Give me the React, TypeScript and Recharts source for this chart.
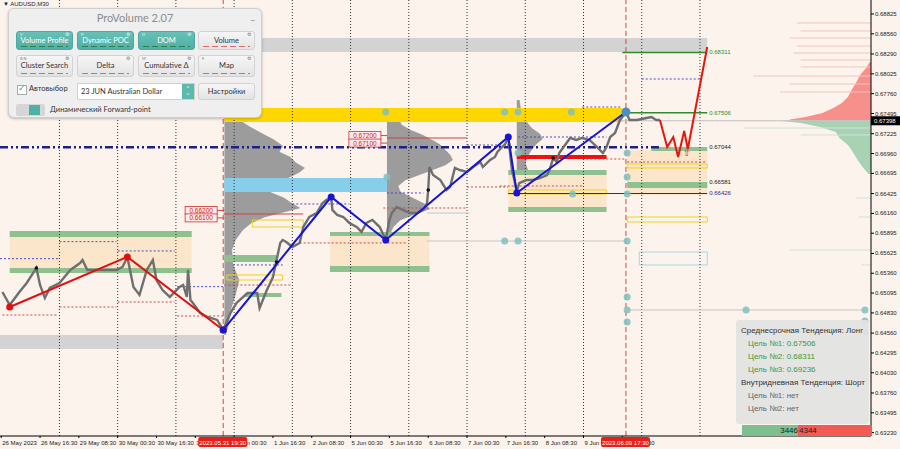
import React from "react";
import {
  ComposedChart,
  Line,
  Area,
  XAxis,
  YAxis,
  ReferenceLine,
  ReferenceArea,
  ReferenceDot,
} from "recharts";

// x axis = M30 bar number counted from 26 May 00:00, y axis = AUDUSD price
const BAR_MAX = 718;
const PRICE_LOW = 0.63185;
const PRICE_HIGH = 0.69012;
const BID = 0.67398;

const timeTickBars = [1, 33, 65, 97, 129, 161, 193, 225, 257, 289, 321, 353, 385, 417, 449, 481, 513];
const timeTickLabels = [
  "26 May 2023", "26 May 16:30", "29 May 08:30", "30 May 00:30", "30 May 16:30", "31 May 08:30",
  "1 Jun 00:30", "1 Jun 16:30", "2 Jun 08:30", "5 Jun 00:30", "5 Jun 16:30", "6 Jun 08:30",
  "7 Jun 00:30", "7 Jun 16:30", "8 Jun 08:30", "9 Jun 00:30", "9 Jun 16:30",
];
const gridBars = [49, 97, 145, 193, 241, 289, 337, 385, 433, 481, 529, 577];
const markerBars = [184, 516];
const markerLabels = ["2023.05.31 19:30", "2023.06.09 17:30"];
const priceTicks = [
  0.68825, 0.6856, 0.6829, 0.68025, 0.6776, 0.67495, 0.67225, 0.6696, 0.66695, 0.66425, 0.6616,
  0.65895, 0.65625, 0.6536, 0.65095, 0.6483, 0.6456, 0.64295, 0.6403, 0.6376, 0.63495, 0.6323,
];

const priceBars = [
  2, 8, 16, 22, 29, 30, 33, 37, 41, 49, 58, 66, 68, 72, 80, 88, 96, 101, 105, 110, 115, 121, 126, 129,
  134, 140, 148, 151, 154, 155, 157, 159, 165, 171, 179, 184, 190, 195, 204, 212, 214, 220, 222, 225,
  228, 231, 233, 236, 241, 247, 250, 255, 261, 266, 269, 273, 274, 278, 283, 288, 294, 298, 302, 307,
  313, 318, 321, 323, 327, 332, 338, 344, 349, 352, 353, 354, 357, 363, 368, 371, 375, 379, 385, 390,
  396, 398, 404, 408, 410, 414, 416, 419, 420, 422, 424, 426, 428, 434, 439, 445, 451, 453, 456, 459,
  461, 467, 470, 475, 480, 486, 492, 497, 500, 503, 507, 511, 513, 516, 519, 525, 533, 537, 541, 544,
];
const priceValues = [
  0.6511, 0.64936, 0.6511, 0.6523, 0.65404, 0.6543, 0.65203, 0.6503, 0.65163, 0.6523, 0.65404, 0.65497,
  0.65537, 0.65404, 0.65404, 0.65404, 0.65404, 0.65444, 0.65578, 0.65177, 0.6507, 0.65404, 0.65537,
  0.6527, 0.65136, 0.65043, 0.65177, 0.65203, 0.65043, 0.65404, 0.65003, 0.64963, 0.64829, 0.64776,
  0.64736, 0.64602, 0.64829, 0.64963, 0.65096, 0.65096, 0.64896, 0.65136, 0.65203, 0.6531, 0.65537,
  0.65765, 0.65805, 0.65778, 0.65711, 0.65765, 0.65978, 0.66112, 0.66165, 0.66299, 0.66339, 0.66379,
  0.66206, 0.66139, 0.66112, 0.66032, 0.65978, 0.65912, 0.66032, 0.66072, 0.65978, 0.65805, 0.66072,
  0.66165, 0.66246, 0.66206, 0.66165, 0.66165, 0.66206, 0.66299, 0.66473, 0.6678, 0.66673, 0.66606,
  0.66473, 0.66513, 0.66767, 0.6674, 0.66713, 0.6678, 0.66847, 0.6678, 0.66874, 0.66914, 0.66981,
  0.67048, 0.67074, 0.67168, 0.67034, 0.6674, 0.66606, 0.66446, 0.66566, 0.66606, 0.66606, 0.66633,
  0.66673, 0.6674, 0.669, 0.66847, 0.66967, 0.67101, 0.67168, 0.67141, 0.67168, 0.67141, 0.67048,
  0.66967, 0.67048, 0.67181, 0.67235, 0.67408, 0.67448, 0.67515, 0.67408, 0.67408, 0.67435, 0.67448,
  0.67408, 0.67408,
];

const redZigBars = [8, 105, 184];
const redZigPrices = [0.64909, 0.65578, 0.64602];
const blueZigBars = [184, 273, 318, 419, 426, 516];
const blueZigPrices = [0.64602, 0.66379, 0.65805, 0.67181, 0.66433, 0.67515];

const forecastBars = [544, 550, 555, 559, 564, 567, 583];
const forecastPrices = [0.67408, 0.67048, 0.67181, 0.66914, 0.67261, 0.67021, 0.68384];

// volume profiles: start bar, row prices, row widths in bars
const profileAStart = 185;
const profileAPrices = [
  0.67502, 0.67408, 0.67315, 0.67235, 0.67141, 0.67061, 0.66981, 0.66914, 0.66834, 0.66767, 0.66713,
  0.66647, 0.6658, 0.665, 0.66433, 0.66366, 0.66299, 0.66232, 0.66179, 0.66112, 0.66032, 0.65938,
  0.65805, 0.65671, 0.65471, 0.6527, 0.6507, 0.64869, 0.64669, 0.64535,
];
const profileAWidths = [2, 12, 21, 30, 41, 48, 45, 54, 59, 66, 62, 54, 41, 33, 39, 49, 55, 62, 49, 33, 22, 15, 9, 6, 7, 12, 9, 5, 3, 1];
const profileBStart = 319;
const profileBPrices = [
  0.67515, 0.67435, 0.67342, 0.67275, 0.67208, 0.67141, 0.67074, 0.67007, 0.66941, 0.66874, 0.66807,
  0.6674, 0.66673, 0.66606, 0.66526, 0.66446, 0.66366, 0.66286, 0.66219, 0.66152, 0.66072, 0.65978, 0.65871,
];
const profileBWidths = [2, 9, 12, 19, 29, 37, 44, 48, 52, 54, 48, 37, 26, 15, 9, 11, 21, 31, 35, 23, 11, 5, 2];
const profileCStart = 426;
const profileCPrices = [
  0.67676, 0.67569, 0.67475, 0.67382, 0.67301, 0.67221, 0.67154, 0.67088, 0.67007, 0.66927, 0.66834,
  0.6674, 0.66633, 0.66526, 0.66446,
];
const profileCWidths = [2, 3, 6, 8, 12, 19, 21, 16, 12, 9, 7, 9, 11, 8, 3];

// market depth at the right edge (widths in bars back from the right edge)
const askPrices = [0.68183, 0.68103, 0.6801, 0.67916, 0.67809, 0.67716, 0.67636, 0.67569, 0.67502, 0.67448, 0.67415, 0.674];
const askWidths = [1, 4, 9, 12, 16, 19, 24, 31, 40, 54, 67, 67];
const bidPrices = [0.67398, 0.67368, 0.67315, 0.67248, 0.67168, 0.67074, 0.66981, 0.66874, 0.6678, 0.66687];
const bidWidths = [75, 58, 42, 29, 26, 19, 15, 11, 7, 2];
const askLinePrices = [0.68705, 0.68598, 0.68504, 0.68397, 0.68304, 0.6821, 0.68117, 0.67996, 0.67889, 0.67783];
const askLineWidths = [61, 58, 67, 61, 64, 58, 58, 97, 67, 75];
const bidLinePrices = [0.67301, 0.67208, 0.66366, 0.66112, 0.65671, 0.65471];
const bidLineWidths = [105, 58, 12, 10, 67, 8];

// zones: [fromBar, toBar, lowPrice, highPrice]
const greyZones = [
  [185, 583, 0.68317, 0.68504],
  [0, 184, 0.64348, 0.64535],
];
const yellowZones = [[185, 513, 0.67382, 0.67569]];
const skyZones = [[185, 319, 0.66446, 0.66633]];
const peachZones = [
  [8, 158, 0.65377, 0.65925],
  [272, 354, 0.65377, 0.65912],
  [419, 500, 0.66179, 0.6674],
  [517, 583, 0.66406, 0.67007],
];
const greenZones = [
  [8, 158, 0.65845, 0.65925],
  [8, 158, 0.65363, 0.6543],
  [272, 354, 0.65858, 0.65912],
  [272, 354, 0.65377, 0.65457],
  [185, 228, 0.65511, 0.65604],
  [202, 232, 0.65043, 0.65096],
  [419, 500, 0.66673, 0.6674],
  [419, 500, 0.66179, 0.66246],
  [537, 583, 0.66994, 0.67048],
  [517, 583, 0.665, 0.6658],
];
const yellowFrames = [
  [517, 583, 0.66767, 0.6682],
  [419, 500, 0.66419, 0.66473],
  [208, 250, 0.65978, 0.66072],
  [187, 233, 0.6527, 0.65337],
  [517, 583, 0.66045, 0.66112],
];
const skyFrames = [[527, 583, 0.65471, 0.65644]];
const redBars = [[426, 500, 0.66887, 0.66941]];

// levels: [fromBar, toBar, price]
const blueDotted = [
  [0, 48, 0.65555], [49, 96, 0.65782], [97, 144, 0.65658], [146, 184, 0.65181], [192, 233, 0.65471],
  [241, 288, 0.66286], [319, 349, 0.66433], [385, 419, 0.67074], [427, 500, 0.67181], [480, 513, 0.67582],
  [529, 577, 0.67956],
];
const redDotted = [
  [2, 48, 0.64802], [49, 96, 0.64909], [97, 144, 0.64976], [146, 184, 0.64789], [185, 241, 0.65203],
  [247, 335, 0.65765], [316, 385, 0.66232], [385, 419, 0.66513], [412, 480, 0.66526], [480, 516, 0.66887],
  [517, 583, 0.66847],
];
const greyLevels = [
  [352, 517, 0.65791], [517, 713, 0.64869], [616, 713, 0.64575], [352, 387, 0.66165],
];
const redThin = [
  [184, 250, 0.66152], [179, 185, 0.662], [179, 185, 0.661], [314, 319, 0.672], [314, 319, 0.671], [319, 385, 0.67168],
];

const redTagBars = [179, 179, 314, 314];
const redTagPrices = [0.662, 0.661, 0.672, 0.671];
const levelTagPrices = [0.68311, 0.67506, 0.67044, 0.66581, 0.66426];
const levelTagColors = ["#2e8b2e", "#2e8b2e", "#222", "#222", "#2a2a8c"];

const tealDotBars = [318, 319, 416, 427, 471, 427, 472, 517, 517, 517, 416, 427, 517, 517, 517, 517, 615, 713, 713, 713, 616];
const tealDotPrices = [
  0.67515, 0.66647, 0.67515, 0.67515, 0.67515, 0.66967, 0.66419, 0.66967, 0.66647, 0.66419, 0.65791,
  0.65791, 0.65791, 0.65043, 0.64869, 0.64709, 0.64869, 0.64869, 0.64722, 0.64575, 0.64575,
];
const blackDotBars = [30, 228, 353, 456];
const blackDotPrices = [0.6543, 0.65511, 0.66473, 0.669];

const FONT = "'Liberation Sans', Arial, sans-serif";
const BG = "#fcf3ec";

const zip = (bars: number[], prices: number[]) => bars.map((t, i) => ({ t, p: prices[i] }));
const profileRows = (start: number, prices: number[], widths: number[]) =>
  prices.map((p, i) => ({ p, x: start + widths[i] }));
const depthRows = (prices: number[], widths: number[]) => prices.map((p, i) => ({ p, x: BAR_MAX - widths[i] }));

const priceData = zip(priceBars, priceValues);
const redZigData = zip(redZigBars, redZigPrices);
const blueZigData = zip(blueZigBars, blueZigPrices);
const forecastData = zip(forecastBars, forecastPrices);

const layerStyle: React.CSSProperties = { position: "absolute", left: 0, top: 0 };
const hiddenMargin = { top: 0, right: 29, bottom: 13, left: 0 };

function TimeTick(props: any) {
  const { x, y, payload } = props;
  const idx = timeTickBars.indexOf(payload.value);
  return (
    <text x={x + 1} y={y + 6} fontSize={6} fill="#222" fontFamily={FONT}>
      {timeTickLabels[idx]}
    </text>
  );
}

function PriceTick(props: any) {
  const { x, y, payload } = props;
  return (
    <text x={x} y={y + 2} fontSize={6} fill="#222" fontFamily={FONT}>
      {Number(payload.value).toFixed(5)}
    </text>
  );
}

const zoneArea = (z: number[], key: string, fill: string, stroke = "none") => (
  <ReferenceArea
    key={key}
    x1={z[0]}
    x2={z[1]}
    y1={z[2]}
    y2={z[3]}
    fill={fill}
    fillOpacity={1}
    stroke={stroke}
    strokeWidth={1}
    ifOverflow="visible"
  />
);

const level = (l: number[], key: string, stroke: string, width: number, dash?: string) => (
  <ReferenceLine
    key={key}
    segment={[{ x: l[0], y: l[2] }, { x: l[1], y: l[2] }]}
    stroke={stroke}
    strokeWidth={width}
    strokeDasharray={dash}
    ifOverflow="visible"
  />
);

function ProfileLayer() {
  return (
    <ComposedChart layout="vertical" width={900} height={449} margin={hiddenMargin} style={layerStyle}>
      <XAxis type="number" dataKey="x" domain={[0, BAR_MAX]} allowDataOverflow hide />
      <YAxis type="number" dataKey="p" domain={[PRICE_LOW, PRICE_HIGH]} allowDataOverflow hide reversed />
      <Area data={profileRows(profileAStart, profileAPrices, profileAWidths)} dataKey="x" baseValue={profileAStart} type="linear" fill="#9c9c9c" fillOpacity={1} stroke="#8a8a8a" strokeWidth={0.5} isAnimationActive={false} />
      <Area data={profileRows(profileBStart, profileBPrices, profileBWidths)} dataKey="x" baseValue={profileBStart} type="linear" fill="#9c9c9c" fillOpacity={1} stroke="#8a8a8a" strokeWidth={0.5} isAnimationActive={false} />
      <Area data={profileRows(profileCStart, profileCPrices, profileCWidths)} dataKey="x" baseValue={profileCStart} type="linear" fill="#9c9c9c" fillOpacity={1} stroke="#8a8a8a" strokeWidth={0.5} isAnimationActive={false} />
      <Area data={depthRows(askPrices, askWidths)} dataKey="x" baseValue={BAR_MAX} type="linear" fill="#f7908a" fillOpacity={1} stroke="none" isAnimationActive={false} />
      <Area data={depthRows(bidPrices, bidWidths)} dataKey="x" baseValue={BAR_MAX} type="linear" fill="#a9d1b4" fillOpacity={1} stroke="none" isAnimationActive={false} />
    </ComposedChart>
  );
}

function MainLayer() {
  return (
    <ComposedChart width={900} height={449} margin={{ top: 0, right: 0, bottom: 0, left: 0 }} style={layerStyle}>
      <XAxis
        type="number"
        dataKey="t"
        domain={[0, BAR_MAX]}
        allowDataOverflow
        ticks={timeTickBars}
        interval={0}
        tick={<TimeTick />}
        tickSize={2}
        tickMargin={1}
        height={13}
        stroke="#000"
      />
      <YAxis
        type="number"
        dataKey="p"
        orientation="right"
        domain={[PRICE_LOW, PRICE_HIGH]}
        allowDataOverflow
        ticks={priceTicks}
        interval={0}
        tick={<PriceTick />}
        tickSize={3}
        tickMargin={1}
        width={29}
        stroke="#000"
      />

      {greyZones.map((z, i) => zoneArea(z, `gr${i}`, "#d3d3d3"))}
      {peachZones.map((z, i) => zoneArea(z, `pe${i}`, "#fce6cb"))}
      {greenZones.map((z, i) => zoneArea(z, `gn${i}`, "#8fc08f"))}
      {yellowZones.map((z, i) => zoneArea(z, `ye${i}`, "#ffd700"))}
      {skyZones.map((z, i) => zoneArea(z, `sk${i}`, "#87ceeb"))}
      {yellowFrames.map((z, i) => zoneArea(z, `yf${i}`, "none", "#f2d21b"))}
      {skyFrames.map((z, i) => zoneArea(z, `sf${i}`, "none", "#a8d4e6"))}
      {redBars.map((z, i) => zoneArea(z, `rb${i}`, "#f01010"))}

      {gridBars.map((t) => (
        <ReferenceLine key={`grid${t}`} x={t} stroke="#333" strokeWidth={1} strokeDasharray="1 2" ifOverflow="visible" />
      ))}
      {markerBars.map((t) => (
        <ReferenceLine key={`mk${t}`} x={t} stroke="#e0403a" strokeDasharray="5 3" ifOverflow="visible" />
      ))}

      {blueDotted.map((l, i) => level(l, `bd${i}`, "#4a4ac8", 1, "2 2"))}
      {redDotted.map((l, i) => level(l, `rd${i}`, "#c84a4a", 1, "2 2"))}
      {greyLevels.map((l, i) => level(l, `gl${i}`, "#c4c4c4", 1))}
      {redThin.map((l, i) => level(l, `rt${i}`, "#d04040", 1))}
      {askLinePrices.map((p, i) => level([BAR_MAX - askLineWidths[i], BAR_MAX, p], `al${i}`, "#f4c4c0", 1))}
      {bidLinePrices.map((p, i) => level([BAR_MAX - bidLineWidths[i], BAR_MAX, p], `bl${i}`, "#cfe3d4", 1))}

      {level([510, BAR_MAX, BID], "bid", "#c0c0c0", 1)}
      {level([0, 544, 0.67044], "poc", "#1f1f8a", 2.5, "8 3 2 3 2 3")}
      {level([513, 583, 0.68311], "t2", "#2e8b2e", 1.5)}
      {level([516, 583, 0.67506], "t1", "#2e8b2e", 1.5)}
      {level([419, 583, 0.66426], "lo", "#2a2a8c", 1.2)}

      <Line data={priceData} dataKey="p" type="linear" stroke="#6f6f6f" strokeWidth={2.4} dot={false} isAnimationActive={false} />
      <Line data={forecastData} dataKey="p" type="linear" stroke="#e8150c" strokeWidth={2} dot={false} isAnimationActive={false} />
      <Line data={redZigData} dataKey="p" type="linear" stroke="#e01010" strokeWidth={2} dot={{ r: 3.5, fill: "#e01010", stroke: "none" }} isAnimationActive={false} />
      <Line data={blueZigData} dataKey="p" type="linear" stroke="#1515d8" strokeWidth={2} dot={{ r: 3.5, fill: "#1515d8", stroke: "none" }} isAnimationActive={false} />

      {tealDotBars.map((t, i) => (
        <ReferenceDot key={`td${i}`} x={t} y={tealDotPrices[i]} r={3.5} fill="#7fbfbf" fillOpacity={0.85} stroke="none" ifOverflow="visible" />
      ))}
      <ReferenceDot x={516} y={0.67515} r={4.5} fill="#4a90c0" stroke="none" ifOverflow="visible" />
      {blackDotBars.map((t, i) => (
        <ReferenceDot key={`bk${i}`} x={t} y={blackDotPrices[i]} r={1.8} fill="#111" stroke="none" ifOverflow="visible" />
      ))}

      {redTagBars.map((t, i) => (
        <ReferenceDot
          key={`tag${i}`}
          x={t}
          y={redTagPrices[i]}
          r={0}
          ifOverflow="visible"
          shape={(p: any) => (
            <g>
              <rect x={p.cx - 32} y={p.cy - 4} width={32} height={8} fill="#fdeceb" stroke="#d03030" strokeWidth={0.8} />
              <text x={p.cx - 16} y={p.cy + 2.5} fontSize={6.5} fill="#d02020" textAnchor="middle" fontFamily={FONT}>
                {redTagPrices[i].toFixed(5)}
              </text>
            </g>
          )}
        />
      ))}
      {levelTagPrices.map((v, i) => (
        <ReferenceDot
          key={`lt${i}`}
          x={583}
          y={v}
          r={0}
          ifOverflow="visible"
          shape={(p: any) => (
            <text x={p.cx + 2} y={p.cy + 2} fontSize={6} fill={levelTagColors[i]} fontFamily={FONT}>
              {v.toFixed(5)}
            </text>
          )}
        />
      ))}
      <ReferenceDot
        x={566}
        y={0.66981}
        r={0}
        ifOverflow="visible"
        shape={(p: any) => (
          <text x={p.cx} y={p.cy + 4} fontSize={9} fill="#e8150c" textAnchor="middle">⇧</text>
        )}
      />
    </ComposedChart>
  );
}

// top layer: flags that sit over the axes (bid price box, red time markers)
function FlagLayer() {
  return (
    <ComposedChart width={900} height={449} margin={hiddenMargin} style={layerStyle}>
      <XAxis type="number" dataKey="t" domain={[0, BAR_MAX]} allowDataOverflow hide />
      <YAxis type="number" dataKey="p" domain={[PRICE_LOW, PRICE_HIGH]} allowDataOverflow hide />
      <ReferenceDot
        x={BAR_MAX}
        y={BID}
        r={0}
        ifOverflow="visible"
        shape={(p: any) => (
          <g>
            <rect x={p.cx} y={p.cy - 4.5} width={29} height={9} fill="#000" />
            <text x={p.cx + 3} y={p.cy + 2} fontSize={6} fill="#fff" fontFamily={FONT}>
              {BID.toFixed(5)}
            </text>
          </g>
        )}
      />
      {markerBars.map((t, i) => (
        <ReferenceDot
          key={`vt${t}`}
          x={t}
          y={PRICE_LOW}
          r={0}
          ifOverflow="visible"
          shape={(p: any) => (
            <g>
              <rect x={p.cx - 25} y={p.cy + 1} width={49} height={10} rx={2} fill="#ea1d17" />
              <text x={p.cx - 0.5} y={p.cy + 8.5} fontSize={6} fill="#fff" textAnchor="middle" fontFamily={FONT}>
                {markerLabels[i]}
              </text>
            </g>
          )}
        />
      ))}
    </ComposedChart>
  );
}

const topButtons = [
  { label: "Volume Profile", key: "V", on: true },
  { label: "Dynamic POC", key: "P", on: true },
  { label: "DOM", key: "D", on: true },
  { label: "Volume", key: "", on: false },
];
const bottomButtons = [
  { label: "Cluster Search", key: "B  N", on: false },
  { label: "Delta", key: "", on: false },
  { label: "Cumulative Δ", key: "M", on: false },
  { label: "Map", key: "F", on: false },
];

function PanelButton({ left, top, height, label, hotkey, on }: any) {
  return (
    <div
      style={{
        position: "absolute",
        left,
        top,
        width: 57,
        height,
        borderRadius: 3,
        border: on ? "1px solid #4fa89f" : "1px solid #d2d2d2",
        background: on ? "linear-gradient(#66c1b7,#4fb0a6)" : "linear-gradient(#f6f6f6,#e3e3e3)",
        color: on ? "#fff" : "#333",
        fontSize: 7.5,
        textAlign: "center",
        boxSizing: "border-box",
      }}
    >
      <span style={{ position: "absolute", left: 3, top: 0, fontSize: 4, color: on ? "#e0f4f2" : "#777" }}>{hotkey}</span>
      <span style={{ position: "absolute", right: 3, top: -1, fontSize: 5, color: on ? "#e8f6f4" : "#777" }}>⚙</span>
      <div style={{ position: "absolute", left: 0, right: 0, top: height / 2 - 6, lineHeight: "10px" }}>{label}</div>
      <div
        style={{
          position: "absolute",
          left: 4,
          right: 4,
          bottom: 2,
          height: 1,
          background: on
            ? "repeating-linear-gradient(90deg,#2e7d4f 0 6px,transparent 6px 9px)"
            : "repeating-linear-gradient(90deg,#d86a6a 0 6px,transparent 6px 9px)",
        }}
      />
    </div>
  );
}

function ProVolumePanel() {
  const lefts = [7, 68, 129, 189];
  return (
    <div
      style={{
        position: "absolute",
        left: 8,
        top: 8,
        width: 254,
        height: 110,
        background: "#efefef",
        border: "1px solid #cfcfcf",
        borderRadius: 6,
        boxShadow: "0 1px 3px rgba(0,0,0,0.25)",
        fontFamily: "Lato, 'Noto Sans', sans-serif",
        boxSizing: "border-box",
      }}
    >
      <div style={{ position: "absolute", left: 0, right: 0, top: 2, textAlign: "center", fontSize: 11, color: "#8c8c8c" }}>
        ProVolume 2.07
      </div>
      <div style={{ position: "absolute", right: 6, top: 0, fontSize: 10, color: "#888" }}>_</div>
      {topButtons.map((b, i) => (
        <PanelButton key={b.label} left={lefts[i]} top={22} height={19} label={b.label} hotkey={b.key} on={b.on} />
      ))}
      {bottomButtons.map((b, i) => (
        <PanelButton key={b.label} left={lefts[i]} top={46} height={22} label={b.label} hotkey={b.key} on={b.on} />
      ))}
      <div style={{ position: "absolute", left: 8, top: 76, width: 8, height: 8, border: "1px solid #aaa", background: "#fff" }}>
        <span style={{ position: "absolute", left: 0, top: -4, fontSize: 9, color: "#3aa89c" }}>✓</span>
      </div>
      <div style={{ position: "absolute", left: 20, top: 75, fontSize: 7.5, color: "#333" }}>Автовыбор</div>
      <div style={{ position: "absolute", left: 68, top: 74, width: 118, height: 17, background: "#fff", border: "1px solid #d0d0d0", boxSizing: "border-box" }}>
        <span style={{ position: "absolute", left: 3, top: 3, fontSize: 7.5, color: "#333" }}>23 JUN Australian Dollar</span>
        <div style={{ position: "absolute", right: 0, top: 0, width: 12, height: 15, background: "#5bb9ae", color: "#fff", fontSize: 6, textAlign: "center", lineHeight: "7px" }}>
          ˄<br />˅
        </div>
      </div>
      <div style={{ position: "absolute", left: 189, top: 74, width: 57, height: 17, borderRadius: 3, border: "1px solid #d2d2d2", background: "linear-gradient(#f6f6f6,#e3e3e3)", fontSize: 7.5, color: "#333", textAlign: "center", lineHeight: "15px", boxSizing: "border-box" }}>
        Настройки
      </div>
      <div style={{ position: "absolute", left: 7, top: 95, width: 29, height: 12, borderRadius: 2, background: "#d6d6d6" }}>
        <div style={{ position: "absolute", left: 13, top: 1, width: 11, height: 10, background: "#4fb0a6" }} />
      </div>
      <div style={{ position: "absolute", left: 41, top: 96, fontSize: 7.5, color: "#333" }}>Динамический Forward-point</div>
    </div>
  );
}

const trendLines = [
  { text: "Среднесрочная Тенденция: Лонг", color: "#333", indent: 3 },
  { text: "Цель №1: 0.67506", color: "#3a9a3a", indent: 10 },
  { text: "Цель №2: 0.68311", color: "#3a9a3a", indent: 10 },
  { text: "Цель №3: 0.69236", color: "#3a9a3a", indent: 10 },
  { text: "Внутридневная Тенденция: Шорт", color: "#333", indent: 3 },
  { text: "Цель №1: нет", color: "#666", indent: 10 },
  { text: "Цель №2: нет", color: "#666", indent: 10 },
];

function TrendBox() {
  return (
    <div style={{ position: "absolute", left: 736, top: 320, width: 134, height: 116, fontFamily: FONT }}>
      <div style={{ position: "absolute", left: 0, top: 0, width: 133, height: 104, background: "#e3e3e3", opacity: 0.95, borderRadius: 3 }} />
      {trendLines.map((l, i) => (
        <div key={i} style={{ position: "absolute", left: l.indent + 2, top: 6 + i * 13, fontSize: 8, color: l.color, whiteSpace: "nowrap" }}>
          {l.text}
        </div>
      ))}
      <div style={{ position: "absolute", left: 6, top: 105, width: 56, height: 11, background: "#7dbf8e", fontSize: 8, color: "#222", textAlign: "right", lineHeight: "11px" }}>
        3446
      </div>
      <div style={{ position: "absolute", left: 62, top: 105, width: 73, height: 11, background: "#f25a54", fontSize: 8, color: "#222", lineHeight: "11px", paddingLeft: 1 }}>
        4344
      </div>
    </div>
  );
}

export default function App() {
  return (
    <div style={{ position: "relative", width: 900, height: 449, background: BG, overflow: "hidden" }}>
      <style>{"body{margin:0}"}</style>
      <ProfileLayer />
      <MainLayer />
      <div style={{ position: "absolute", left: 3, top: 1, fontSize: 6, color: "#222", fontFamily: FONT }}>▼ AUDUSD,M30</div>
      <ProVolumePanel />
      <TrendBox />
      <FlagLayer />
    </div>
  );
}
